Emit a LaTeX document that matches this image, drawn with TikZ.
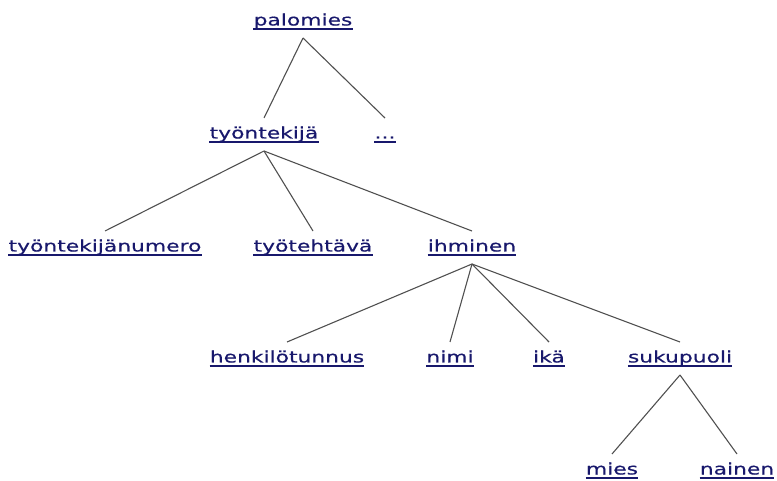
\documentclass[tikz,border=0pt]{standalone}
\usepackage{fontspec}
\newfontfamily\treefont[FakeStretch=1.38,FakeBold=0.5]{DejaVu Sans}
\definecolor{linkblue}{RGB}{24,24,108}
\definecolor{edgegray}{RGB}{80,80,80}
\begin{document}
\begin{tikzpicture}[x=1pt,y=-1pt,
  term/.style={inner sep=0pt, anchor=base, text=linkblue,
    font=\treefont\fontsize{15.8}{18}\selectfont},
  uline/.style={draw=linkblue, line width=1.4pt},
  branch/.style={draw=edgegray, line width=1.1pt}]
\useasboundingbox (0,0) rectangle (777,481);

% terms, placed by centre x and baseline y
\node[term] (palomies) at (303,25.5) {palomies};
\node[term] (tyontekija) at (264,138.5) {työntekijä};
\node[term] (dots) at (385,138.5) {...};
\node[term] (numero) at (105,251.5) {työntekijänumero};
\node[term] (tehtava) at (313,251.5) {työtehtävä};
\node[term] (ihminen) at (472,251.5) {ihminen};
\node[term] (hetu) at (287,362.5) {henkilötunnus};
\node[term] (nimi) at (450,362.5) {nimi};
\node[term] (ika) at (549,362.5) {ikä};
\node[term] (sukupuoli) at (680,362.5) {sukupuoli};
\node[term] (mies) at (612,474.5) {mies};
\node[term] (nainen) at (737,474.5) {nainen};

% link underlines
\foreach \n in {palomies,tyontekija,dots,numero,tehtava,ihminen,hetu,nimi,ika,sukupuoli,mies,nainen}
  \draw[uline] ([yshift=-3.5pt]\n.base west) -- ([yshift=-3.5pt]\n.base east);

% branches from parent to child
\foreach \a/\b in {palomies/tyontekija, palomies/dots,
                   tyontekija/numero, tyontekija/tehtava, tyontekija/ihminen,
                   ihminen/hetu, ihminen/nimi, ihminen/ika, ihminen/sukupuoli,
                   sukupuoli/mies, sukupuoli/nainen}
  \draw[branch] ([yshift=-12.5pt]\a.base) -- ([yshift=20.5pt]\b.base);
\end{tikzpicture}
\end{document}
